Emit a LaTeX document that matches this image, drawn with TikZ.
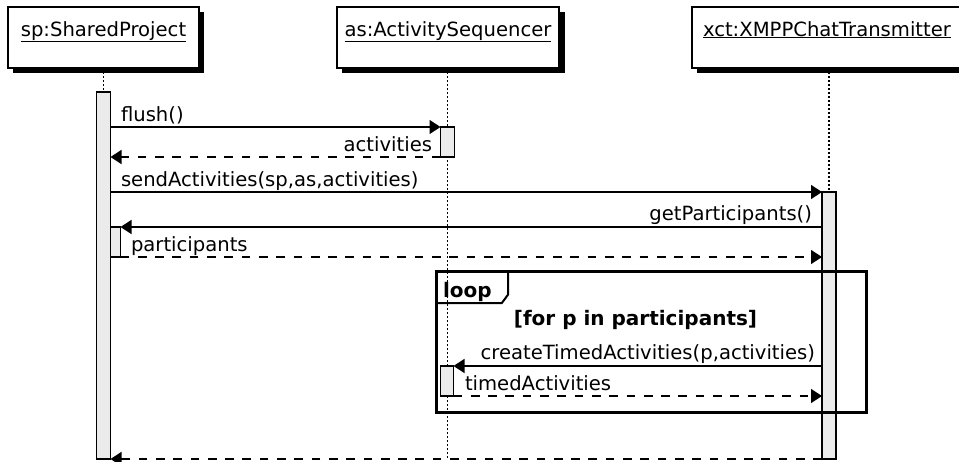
\documentclass[tikz,border=0pt]{standalone}
\usepackage{fontspec}
\setmainfont{DejaVu Sans}
\usetikzlibrary{arrows.meta,backgrounds}
\definecolor{barfill}{RGB}{235,235,235}
\begin{document}
\begin{tikzpicture}[x=1pt,y=-1pt,
  every node/.style={inner sep=0pt, outer sep=0pt},
  txt/.style={font=\fontsize{19.6}{23}\selectfont},
  btxt/.style={font=\fontsize{20}{24}\selectfont\bfseries},
  objbox/.style={draw=black, line width=1.3pt, fill=white, anchor=north west},
  actbar/.style={draw=black, line width=1.2pt, fill=barfill, anchor=north west},
  lifeline/.style={line width=1.6pt, dash pattern=on 1.8pt off 2.2pt},
  callmsg/.style={line width=1.4pt, -{Triangle[length=11pt,width=14pt]}},
  retmsg/.style={callmsg, dash pattern=on 8.7pt off 8.6pt},
  framebox/.style={draw=black, line width=3pt, anchor=north west},
]
\useasboundingbox (0,0) rectangle (959,461);

% object boxes with drop shadows
\fill (13,12) rectangle (204,73);
\node[objbox, minimum width=191pt, minimum height=61pt] (spbox) at (8,7) {};
\fill (342,12) rectangle (565,73);
\node[objbox, minimum width=222pt, minimum height=61pt] (asbox) at (337,7) {};
\fill (697,12) rectangle (975,73);
\node[objbox, minimum width=275pt, minimum height=61pt] (xctbox) at (692,7) {};

\node[txt, anchor=base] (sptitle) at ([yshift=-29pt]spbox.north) {\underline{sp:SharedProject}};
\node[txt, anchor=base] (astitle) at ([yshift=-29pt]asbox.north) {\underline{as:ActivitySequencer}};
\node[txt, anchor=base west] (xcttitle) at ([xshift=11pt,yshift=-29pt]xctbox.north west) {\underline{xct:XMPPChatTransmitter}};

% activation bars
\node[actbar, minimum width=14pt, minimum height=367pt] (spbar) at (96.5,92) {};
\node[actbar, minimum width=14pt, minimum height=30pt] (asbar1) at (440.5,127) {};
\node[actbar, minimum width=14pt, minimum height=267pt] (xctbar) at (822,192) {};
\node[actbar, minimum width=10pt, minimum height=30pt] (spbar2) at (110.5,227) {};
\node[actbar, minimum width=13pt, minimum height=30pt] (asbar2) at (440.5,366) {};

% lifelines behind everything
\begin{scope}[on background layer]
  \draw[lifeline] (spbar.north |- spbox.south) -- (spbar.north);
  \draw[lifeline] (asbar1.north |- asbox.south) -- (asbar1.north |- spbar.south);
  \draw[lifeline] (xctbar.north |- xctbox.south) -- (xctbar.north);
\end{scope}

% messages
\draw[callmsg] (spbar.east |- asbar1.north west) -- (asbar1.north west);
\node[txt, anchor=base west] (lflush) at (121,121) {flush()};
\draw[retmsg] (asbar1.south west) -- (spbar.east |- asbar1.south west);
\node[txt, anchor=base east] (lact) at (432,151) {activities};

\draw[callmsg] (spbar.east |- xctbar.north west) -- (xctbar.north west);
\node[txt, anchor=base west] (lsend) at (121,186) {sendActivities(sp,as,activities)};

\draw[callmsg] (xctbar.west |- spbar2.north east) -- (spbar2.north east);
\node[txt, anchor=base east] (lget) at (812,220) {getParticipants()};
\draw[retmsg] (spbar2.south east) -- (xctbar.west |- spbar2.south east);
\node[txt, anchor=base west] (lpart) at (131,251) {participants};

\draw[callmsg] (xctbar.west |- asbar2.north east) -- (asbar2.north east);
\node[txt, anchor=base east] (lcreate) at (815,359) {createTimedActivities(p,activities)};
\draw[retmsg] (asbar2.south east) -- (xctbar.west |- asbar2.south east);
\node[txt, anchor=base west] (ltimed) at (465,390) {timedActivities};

\draw[retmsg] (xctbar.south west) -- (spbar.south east);

% loop combined fragment
\node[framebox, minimum width=430pt, minimum height=141pt] (loopframe) at (436.7,271.7) {};
\draw[line width=2pt]
  ([xshift=71.3pt]loopframe.north west) -- ([xshift=71.3pt,yshift=-23pt]loopframe.north west)
  -- ([xshift=65pt,yshift=-31.5pt]loopframe.north west) -- ([yshift=-31.5pt]loopframe.north west);
\node[btxt, anchor=base west] (lloop) at (443,297) {loop};
\node[btxt, anchor=base] (lguard) at (635.5,325) {[for p in participants]};
\end{tikzpicture}
\end{document}
